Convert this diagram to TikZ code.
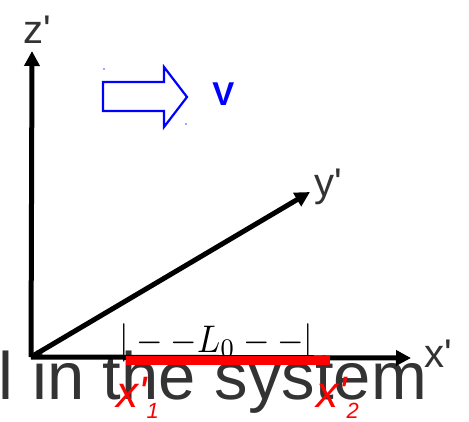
\documentclass[tikz,border=0pt]{standalone}
\usepackage{fontspec}
\setmainfont{Liberation Sans}
\usetikzlibrary{arrows.meta}
\definecolor{txtgray}{HTML}{333333}
\begin{document}
\begin{tikzpicture}[x=1pt,y=-1pt,
  axis/.style={line width=5pt,-{Triangle[length=15pt,width=15pt]}},
  axlabel/.style={inner sep=0pt,anchor=base west,text=txtgray,font=\fontsize{40}{40}\selectfont},
  redlabel/.style={inner sep=0pt,anchor=base west,text=red,font=\fontsize{44}{44}\selectfont\itshape},
  velarrow/.style={draw=blue,line width=2.2pt,line join=miter}]
\useasboundingbox (0,0) rectangle (469,421);
% big gray text (behind everything)
\node[inner sep=0pt,anchor=base west,text=txtgray,font=\fontsize{67}{67}\selectfont] (caption) at (-1.5,399) {l in the system};
% axes
\coordinate (O) at (31,357);
\coordinate (Z) at (32,51);
\coordinate (X) at (411,358);
\coordinate (Y) at (310,192);
\draw[axis] (O) -- (Z);
\draw[axis] (O) -- (X);
\draw[axis] (O) -- (Y);
\node[axlabel] (zl) at (23,43) {z\textquotesingle};
\node[axlabel] (yl) at (314,196) {y\textquotesingle};
\node[axlabel] (xl) at (424,367) {x\textquotesingle};
% velocity arrow
\draw[velarrow] (103,82) -- (164,82) -- (164,67) -- (187,97) -- (164,127) -- (164,111) -- (103,111) -- cycle;
\fill[blue!70] (104,69) circle (0.9);
\fill[blue!70] (186,124) circle (0.9);
\node[inner sep=0pt,text=blue,font=\fontsize{33}{33}\selectfont\bfseries] (V) at (223.5,94) {V};
% L0 annotation
\node[inner sep=0pt,anchor=base] (L0) at (216.5,352) {\scalebox{3.41}[3.85]{$|--L_0--|$}};
% red rod
\fill[red] (126,356) rectangle (330,365);
\node[redlabel] (x1) at (116,407) {x\textquotesingle\raisebox{-0.25em}{\fontsize{22}{22}\selectfont 1}};
\node[redlabel] (x2) at (316,407) {x\textquotesingle\raisebox{-0.25em}{\fontsize{22}{22}\selectfont 2}};
\end{tikzpicture}
\end{document}
